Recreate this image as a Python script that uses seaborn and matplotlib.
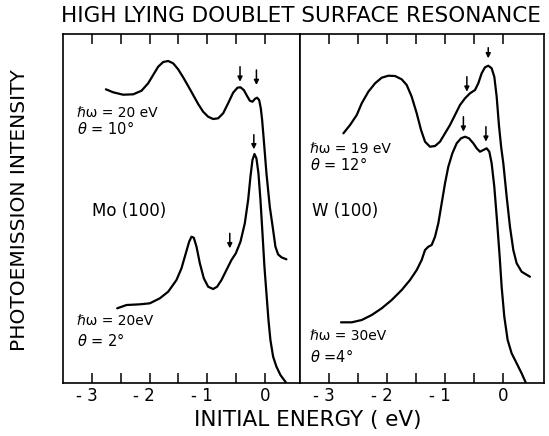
import matplotlib
matplotlib.use("Agg")
import matplotlib.pyplot as plt
import matplotlib.transforms as mtransforms
import seaborn as sns
import pandas as pd

# ---------------- data ----------------
# Mo(100), hw=20 eV, theta=10 deg
mo10_E = [-2.760, -2.633, -2.460, -2.286, -2.141, -2.026, -1.939, -1.852, -1.765, -1.678,
          -1.591, -1.505, -1.418, -1.331, -1.244, -1.157, -1.071, -0.984, -0.897, -0.810,
          -0.723, -0.637, -0.550, -0.474, -0.422, -0.365, -0.307, -0.260, -0.214, -0.168,
          -0.133, -0.098, -0.069, -0.046, -0.017, 0.029, 0.087, 0.145, 0.185, 0.231,
          0.289, 0.376]
mo10_I = [293.4, 290.4, 288.0, 288.4, 292.0, 299.4, 307.7, 316.0, 320.7, 321.7,
          319.4, 313.4, 305.4, 296.7, 287.7, 278.7, 271.0, 266.0, 263.7, 264.4,
          269.4, 279.4, 290.0, 295.0, 295.4, 292.7, 286.7, 282.0, 281.0, 284.0,
          285.0, 282.7, 274.4, 262.7, 242.7, 209.4, 176.0, 152.7, 136.0, 128.4,
          125.4, 123.4]

# Mo(100), hw=20 eV, theta=2 deg
mo2_E = [-2.564, -2.402, -2.170, -1.997, -1.823, -1.678, -1.534, -1.447, -1.372, -1.314,
         -1.273, -1.233, -1.186, -1.128, -1.059, -0.984, -0.897, -0.828, -0.752, -0.666,
         -0.579, -0.503, -0.422, -0.347, -0.289, -0.249, -0.214, -0.179, -0.145, -0.110,
         -0.075, -0.040, -0.006, 0.029, 0.064, 0.098, 0.145, 0.203, 0.272, 0.370]
mo2_I = [74.4, 77.7, 78.4, 79.4, 84.4, 91.0, 102.7, 114.4, 129.4, 141.0,
         146.0, 145.0, 136.0, 119.4, 104.4, 96.0, 93.7, 96.0, 102.7, 112.7,
         122.7, 129.4, 141.0, 159.4, 182.7, 206.0, 222.7, 228.7, 224.4, 209.4,
         182.7, 149.4, 116.0, 89.4, 62.7, 42.7, 26.0, 16.0, 7.7, 0.0]

# W(100), hw=19 eV, theta=12 deg
w12_E = [-2.757, -2.642, -2.526, -2.440, -2.325, -2.209, -2.094, -1.979, -1.863, -1.748,
         -1.661, -1.575, -1.488, -1.413, -1.344, -1.258, -1.171, -1.085, -0.998, -0.912,
         -0.825, -0.739, -0.652, -0.566, -0.479, -0.422, -0.364, -0.306, -0.249, -0.191,
         -0.145, -0.104, -0.064, -0.025, 0.011, 0.069, 0.126, 0.184, 0.242, 0.328, 0.472]
w12_I = [249.4, 257.7, 267.7, 279.4, 291.0, 299.4, 305.0, 307.0, 306.7, 303.4,
         297.7, 286.0, 269.4, 252.7, 241.0, 236.0, 236.7, 241.0, 249.4, 257.7,
         267.7, 277.7, 284.4, 289.4, 292.7, 299.4, 309.4, 315.4, 317.0, 314.4,
         306.0, 286.0, 257.0, 235.0, 219.4, 186.0, 156.0, 132.7, 119.4, 111.0, 106.0]

# W(100), hw=30 eV, theta=4 deg
w4_E = [-2.798, -2.613, -2.440, -2.267, -2.094, -1.921, -1.748, -1.604, -1.488, -1.402,
        -1.344, -1.287, -1.229, -1.171, -1.114, -1.056, -0.998, -0.941, -0.871, -0.796,
        -0.721, -0.652, -0.583, -0.508, -0.450, -0.393, -0.335, -0.277, -0.231, -0.191,
        -0.145, -0.099, -0.052, -0.018, 0.028, 0.086, 0.155, 0.242, 0.328, 0.400]
w4_I = [60.4, 60.4, 62.7, 67.7, 74.4, 82.7, 92.7, 102.7, 112.7, 122.7,
        132.7, 136.0, 137.7, 146.0, 159.4, 179.4, 199.4, 216.0, 229.4, 239.4,
        244.4, 246.0, 244.4, 239.4, 234.4, 231.0, 232.7, 234.4, 231.0, 219.4,
        196.0, 162.7, 126.0, 96.0, 66.0, 42.7, 29.4, 19.4, 9.4, 0.0]

# arrows: (energy, tail intensity, tip intensity)
mo_arrow_E = [-0.43, -0.145, -0.19, -0.608]
mo_arrow_top = [316.0, 312.7, 248.0, 149.4]
mo_arrow_tip = [301.0, 297.7, 233.4, 134.4]
w_arrow_E = [-0.62, -0.25, -0.68, -0.29]
w_arrow_top = [306.0, 335.0, 266.0, 256.0]
w_arrow_tip = [291.0, 324.4, 251.0, 241.0]

# labels
mo_labels = ["\u210f\u03c9 = 20 eV", "$\\theta$ = 10\u00b0", "Mo (100)", "\u210f\u03c9 = 20eV", "$\\theta$ = 2\u00b0"]
mo_label_E = [-3.27, -3.27, -3.01, -3.27, -3.27]
mo_label_I = [269.4, 254.7, 171.7, 62.0, 42.7]
w_labels = ["\u210f\u03c9 = 19 eV", "$\\theta$ = 12\u00b0", "W (100)", "\u210f\u03c9 = 30eV", "$\\theta$ =4\u00b0"]
w_label_E = [-3.33, -3.33, -3.30, -3.33, -3.33]
w_label_I = [234.0, 218.7, 171.7, 46.7, 26.7]

major_ticks = [-3, -2, -1, 0]
major_labels = ["- 3", "- 2", "- 1", "0"]
minor_ticks = [-2.5, -1.5, -0.5]

title = "HIGH LYING DOUBLET SURFACE RESONANCE"
ylabel = "PHOTOEMISSION INTENSITY"
xlabel = "INITIAL ENERGY ( eV)"

# ---------------- plotting ----------------
sns.set_style("white")
plt.rcParams["font.family"] = ["DejaVu Sans"]
plt.rcParams["mathtext.fontset"] = "dejavusans"
plt.rcParams["text.color"] = "black"
plt.rcParams["xtick.color"] = "black"
plt.rcParams["xtick.labelcolor"] = "black"

fig = plt.figure(figsize=(5.49, 4.36), dpi=100)
gs = fig.add_gridspec(1, 2, left=0.1153, right=0.9914, bottom=0.1222, top=0.922,
                      wspace=0, width_ratios=[236.7, 244.5])
axL = fig.add_subplot(gs[0, 0])
axR = fig.add_subplot(gs[0, 1])

panels = [
    (axL, [(mo10_E, mo10_I), (mo2_E, mo2_I)], (-3.50, 0.61),
     (mo_arrow_E, mo_arrow_top, mo_arrow_tip), (mo_labels, mo_label_E, mo_label_I)),
    (axR, [(w12_E, w12_I), (w4_E, w4_I)], (-3.51, 0.72),
     (w_arrow_E, w_arrow_top, w_arrow_tip), (w_labels, w_label_E, w_label_I)),
]

for ax, curves, xlim, arrows, labels in panels:
    for E, I in curves:
        df = pd.DataFrame({"E": E, "I": I})
        sns.lineplot(data=df, x="E", y="I", ax=ax, color="black", lw=1.6,
                     sort=False, estimator=None, solid_joinstyle="round",
                     solid_capstyle="round")
    for e, top, tip in zip(*arrows):
        ax.annotate("", xy=(e, tip), xytext=(e, top),
                    arrowprops=dict(arrowstyle="-|>", color="black", lw=1.1,
                                    mutation_scale=7, shrinkA=0, shrinkB=0))
    for txt, e, i in zip(*labels):
        if "(" in txt:
            fs = 12
        elif "theta" in txt:
            fs = 10.5
        else:
            fs = 10
        ax.text(e, i, txt, ha="left", va="center", color="black", fontsize=fs)
    ax.set_xlim(*xlim)
    ax.set_ylim(0, 348.7)
    ax.set_xticks(major_ticks)
    ax.set_xticklabels(major_labels)
    ax.set_xticks(minor_ticks, minor=True)
    ax.set_yticks([])
    ax.tick_params(axis="x", which="both", direction="in", top=True, bottom=True,
                   length=7.2, width=1.1, color="black", labelsize=12, pad=3)
    # centre the digit (not the minus sign) on the tick
    for lab in ax.get_xticklabels():
        if lab.get_text().startswith("-"):
            lab.set_horizontalalignment("right")
            lab.set_transform(lab.get_transform() +
                              mtransforms.ScaledTranslation(5.5 / 100, 0, fig.dpi_scale_trans))
    ax.set_xlabel("")
    ax.set_ylabel("")
    for sp in ax.spines.values():
        sp.set_visible(True)
        sp.set_color("black")
        sp.set_linewidth(1.2)

fig.text(301 / 549, 1 - 16 / 436, title, ha="center", va="center", fontsize=15.5)
fig.text(20 / 549, 1 - 210 / 436, ylabel, ha="center", va="center", rotation=90, fontsize=14.5)
fig.text(308 / 549, 1 - 420 / 436, xlabel, ha="center", va="center", fontsize=15.5)

fig.savefig("out.png", dpi=100)
